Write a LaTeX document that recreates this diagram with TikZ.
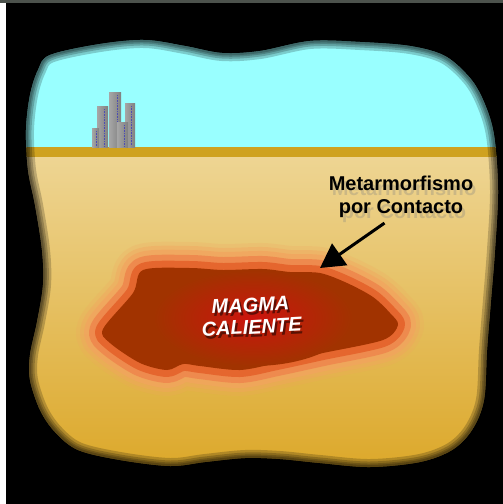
\documentclass[tikz,border=0pt]{standalone}
\usepackage{fontspec}
\setmainfont{Liberation Sans}
\usepackage{tikz}
\usetikzlibrary{arrows.meta, positioning}
\definecolor{SkyCyan}{HTML}{99FFFF}
\definecolor{SoilBand}{HTML}{CFA21F}
\definecolor{SandTop}{HTML}{EED593}
\definecolor{SandMid}{HTML}{E8C560}
\definecolor{SandBottom}{HTML}{DCA82A}
\definecolor{HaloPale}{HTML}{F2A45E}
\definecolor{HaloOrange}{HTML}{EE8A4E}
\definecolor{HaloRed}{HTML}{E5662E}
\definecolor{MagmaDark}{HTML}{A13300}
\definecolor{MagmaRed}{HTML}{CC140E}
\definecolor{TowerLight}{HTML}{E2E2E2}
\definecolor{TowerDark}{HTML}{808080}
\definecolor{FrameGrey}{HTML}{4C524C}

% outline of the cut-away block and of the magma chamber
\newcommand{\crustline}{plot[smooth cycle, tension=0.55] coordinates {
  (50,55) (100,44) (145,40) (185,46) (222,53) (260,51) (310,41) (360,42)
  (410,46) (445,56) (470,78) (484,102) (494,135) (498,190) (495,250)
  (491,300) (487,350) (484,400) (472,430) (452,450) (420,462) (370,467)
  (320,463) (280,459) (245,458) (205,462) (170,466) (120,460) (78,450)
  (55,432) (40,410) (30,380) (30,355) (37,322) (43,285) (42,250) (35,205)
  (28,170) (26,130) (30,95) (38,70)}}
\newcommand{\chamberline}{plot[smooth cycle, tension=0.5] coordinates {
  (143,270) (190,268) (223,270) (263,269) (290,272) (320,273) (347,283)
  (373,297) (390,313) (398,325) (383,340) (323,353) (277,363) (240,370)
  (200,366) (183,364) (167,370) (140,363) (110,343) (103,329) (133,293)}}

\begin{document}
\begin{tikzpicture}[x=1pt, y=-1pt, every node/.style={font=\bfseries}]
  \useasboundingbox (0,0) rectangle (503,504);
  \fill[black] (0,0) rectangle (503,504);
  \fill[FrameGrey] (0,0) rectangle (503,3);
  \fill[white] (0,3) rectangle (6,504);

  \begin{scope}
    \clip \crustline;
    \fill[SkyCyan] (0,0) rectangle (503,148);
    \shade[top color=SandTop, middle color=SandMid, bottom color=SandBottom] (0,156) rectangle (503,470);
    \fill[SoilBand] (0,147) rectangle (503,157);

    % magma chamber with its contact aureole
    \foreach \w/\o in {52/0.2, 44/0.4, 36/0.7}
      \draw[HaloPale, line width=\w pt, line join=round, opacity=\o] \chamberline;
    \draw[HaloOrange, line width=26pt, line join=round] \chamberline;
    \draw[HaloRed, line width=14pt, line join=round] \chamberline;
    \fill[MagmaDark] \chamberline;
    \shade[inner color=MagmaRed, outer color=MagmaDark] (253,318) ellipse [x radius=100, y radius=48];

    % towers
    \foreach \x/\w/\t in {109/12/92, 125/10/103, 97/11/106, 117/11/122, 92/7/128}{
      \shade[left color=TowerDark!70, middle color=TowerLight, right color=TowerDark] (\x,\t) rectangle (\x+\w,147);
      \draw[TowerDark!60!blue, densely dotted, line width=0.6pt] (\x+0.65*\w,\t+3) -- (\x+0.65*\w,146);
    }

    % soft dark rim
    \foreach \w in {16,11,7,4}
      \draw[black, line width=\w pt, opacity=0.2] \crustline;
  \end{scope}

  \node (magmashadow) [black, opacity=0.5, align=center, rotate=3, font=\fontsize{20}{22}\bfseries\itshape] at (253,319) {MAGMA\\CALIENTE};
  \node (magma) [white, align=center, rotate=3, font=\fontsize{20}{22}\bfseries\itshape] at (251,316) {MAGMA\\CALIENTE};

  \node (lblshadow) [gray, opacity=0.3, align=center, font=\fontsize{20}{23}\bfseries] at (404,202) {Metarmorfismo\\por Contacto};
  \node (lbl) [black, align=center, font=\fontsize{20}{23}\bfseries] at (401,197) {Metarmorfismo\\por Contacto};

  \coordinate (contact) at (320,268);
  \draw[-{Triangle[length=24pt, width=26pt]}, line width=3pt, black, shorten <=3pt] (lbl.-120) -- (contact);
\end{tikzpicture}
\end{document}
